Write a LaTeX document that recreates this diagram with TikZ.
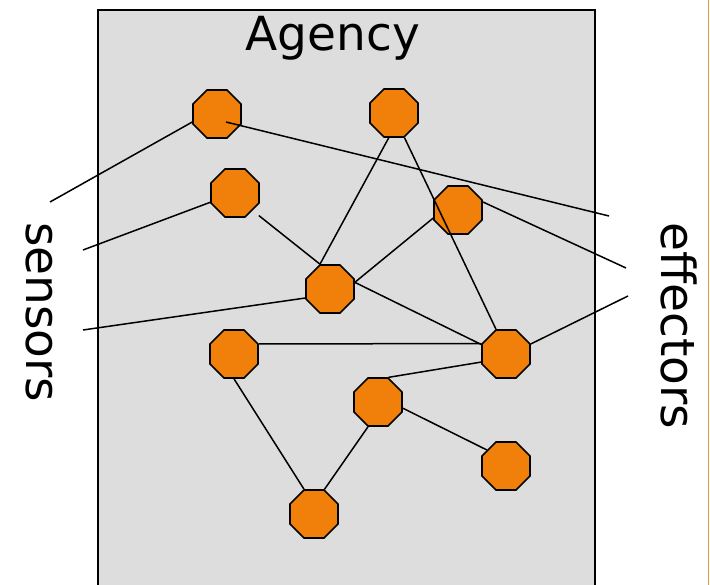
\documentclass[tikz,border=0pt]{standalone}
\usepackage{fontspec}
\setmainfont{DejaVu Sans}
\usetikzlibrary{shapes.geometric}
\definecolor{agencygray}{RGB}{221,221,221}
\definecolor{unitorange}{RGB}{240,128,10}
\definecolor{edgeorange}{RGB}{236,150,70}
\tikzset{
  unit/.style={regular polygon, regular polygon sides=8, minimum size=52pt,
    inner sep=0pt, draw=black, line width=1.6pt, fill=unitorange},
  link/.style={draw=black, line width=1.5pt},
  biglabel/.style={font=\fontsize{47}{52}\selectfont, inner sep=0pt},
}
\begin{document}
\begin{tikzpicture}[x=1pt, y=-1pt]
  \useasboundingbox (0,0) rectangle (710,585);
  % the agency box and the page edge line
  \draw[fill=agencygray, line width=2pt] (98,600) -- (98,10) -- (595,10) -- (595,600);
  \draw[edgeorange, line width=1.5pt] (708.5,-5) -- (708.5,600);
  \node[biglabel, anchor=base] (title) at (333,51) {Agency};
  \node[biglabel, rotate=-90, anchor=base west] (sens) at (26,222) {sensors};
  \node[biglabel, rotate=-90, anchor=base west] (effs) at (661,222) {effectors};

  % free ends of the sensor and effector lines
  \coordinate (s1) at (50,202);
  \coordinate (s2) at (83,250);
  \coordinate (s3) at (83,330);
  \coordinate (e1) at (609,216);
  \coordinate (e2) at (626,268);
  \coordinate (e3) at (628,296);
  \coordinate (ain) at (226,122);

  % units
  \path
    (217,114) node[unit] (A) {}
    (394,113) node[unit] (B) {}
    (235,193) node[unit] (C) {}
    (458,210) node[unit] (D) {}
    (330,289) node[unit] (E) {}
    (234,354) node[unit] (F) {}
    (506,354) node[unit] (G) {}
    (378,402) node[unit] (H) {}
    (506,466) node[unit] (I) {}
    (314,514) node[unit] (J) {};

  % connections
  \draw[link] (s1) -- (A.198);
  \draw[link] (s2) -- (C);
  \draw[link] (s3) -- (E.200);
  \draw[link, shorten <=8pt] (C.-45) -- (E.112.5);
  \draw[link] (B.-102) -- (E.112.5);
  \draw[link] (D.198) -- (E.15);
  \draw[link] (D.18) -- (e2);
  \draw[link] (E.15) -- (G.159);
  \draw[link] (F.22.5) -- (G.157.5);
  \draw[link] (H.67.5) -- (G.198);
  \draw[link] (G.22.5) -- (e3);
  \draw[link] (F.-90) -- (J.112.5);
  \draw[link] (H.-14) -- (I.140);
  \draw[link] (H.-112.5) -- (J.67.5);
  % these two run across units
  \draw[link] (B.-67.5) -- (G.112.5);
  \draw[link] (ain) -- (e1);
\end{tikzpicture}
\end{document}
